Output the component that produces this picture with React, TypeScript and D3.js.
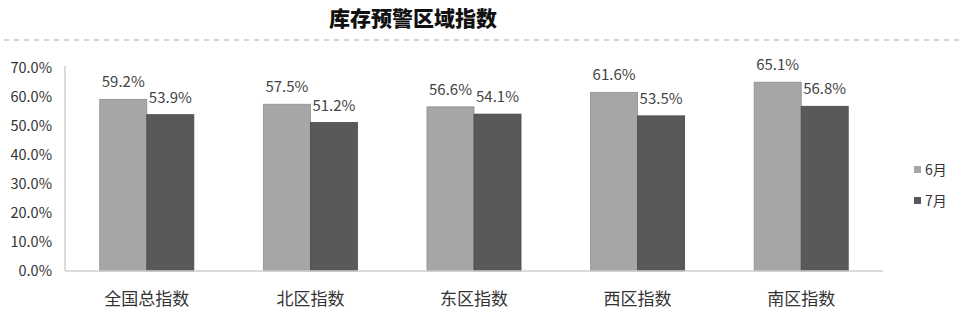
import React from "react";
import * as d3 from "d3";

const categories = ["全国总指数", "北区指数", "东区指数", "西区指数", "南区指数"];
const seriesNames = ["6月", "7月"];
const june = [59.2, 57.5, 56.6, 61.6, 65.1];
const july = [53.9, 51.2, 54.1, 53.5, 56.8];
const yTicks = [0, 10, 20, 30, 40, 50, 60, 70];
const colors = ["#a6a6a6", "#59585b"];

export default function App() {
  const W = 966, H = 322;
  const left = 65, right = 883, top = 68, bottom = 271;
  const x = d3.scaleBand<string>().domain(categories).range([left, right]).paddingInner(0.425).paddingOuter(0.2125);
  const x1 = d3.scaleBand<string>().domain(seriesNames).range([0, x.bandwidth()]);
  const y = d3.scaleLinear().domain([0, 70]).range([bottom, top]);
  const series = [june, july];
  const font = "'Noto Sans CJK SC', 'Noto Sans', sans-serif";
  const dash = d3.range(4, 955, 10);

  return (
    <svg width={W} height={H} style={{ position: "absolute", left: 0, top: 0, background: "#fff" }} fontFamily={font}>
      <text x={413} y={26} textAnchor="middle" fontSize={21} fontWeight={900} fill="#111">库存预警区域指数</text>
      {dash.map((d) => (
        <line key={d} x1={d} x2={d + 5} y1={40} y2={40} stroke="#b8b8b8" strokeWidth={1.2} />
      ))}
      {yTicks.map((t) => (
        <text key={t} x={52} y={y(t) + 5} textAnchor="end" fontSize={14.5} fill="#333">{t.toFixed(1)}%</text>
      ))}
      <line x1={left} x2={left} y1={top - 2} y2={bottom} stroke="#cfcfcf" strokeWidth={1.5} />
      {categories.map((c, i) => (
        <g key={c} transform={`translate(${x(c)},0)`}>
          {series.map((s, j) => {
            const bx = x1(seriesNames[j])!;
            return (
              <g key={j}>
                <rect x={bx} y={y(s[i])} width={x1.bandwidth()} height={bottom - y(s[i])} fill={colors[j]} stroke={j === 0 ? "#8e8e8e" : "#4a4a4c"} strokeWidth={0.8} />
                <text x={bx + x1.bandwidth() / 2} y={y(s[i]) - 12} textAnchor="middle" fontSize={15} fill="#444">{s[i].toFixed(1)}%</text>
              </g>
            );
          })}
          <text x={x.bandwidth() / 2} y={305} textAnchor="middle" fontSize={17} fill="#333">{c}</text>
        </g>
      ))}
      <line x1={left} x2={right} y1={bottom} y2={bottom} stroke="#cfcfcf" strokeWidth={1.5} />
      {seriesNames.map((n, j) => (
        <g key={n} transform={`translate(914,${170 + j * 31})`}>
          <rect x={0} y={-4} width={7} height={7} fill={colors[j]} />
          <text x={11} y={5} fontSize={14} fill="#333">{n}</text>
        </g>
      ))}
    </svg>
  );
}
